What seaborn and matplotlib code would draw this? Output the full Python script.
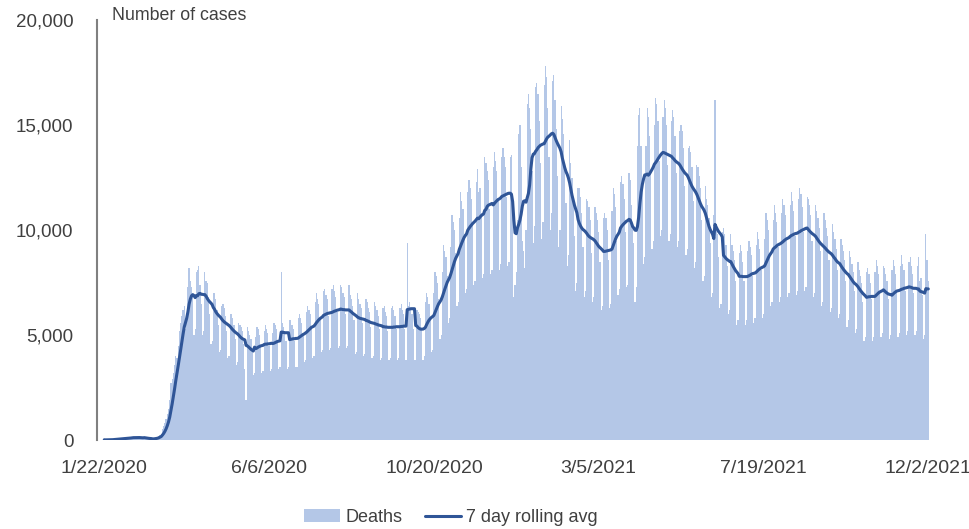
import numpy as np
import pandas as pd
import matplotlib
matplotlib.use("Agg")
import matplotlib.pyplot as plt
from matplotlib.patches import Patch
from matplotlib.lines import Line2D
from matplotlib.ticker import FuncFormatter
import seaborn as sns

# Daily reported deaths, one row per week (Wed..Tue), starting 1/22/2020
deaths_early_2020 = [
    17, 8, 16, 14, 26, 26, 24,
    38, 43, 46, 45, 57, 64, 66,
    73, 73, 86, 89, 97, 108, 97,
    120, 115, 143, 142, 106, 98, 139,
    114, 118, 109, 99, 98, 150, 71,
    64, 42, 57, 64, 58, 71, 73,
    110, 120, 150, 200, 250, 300, 550,
    650, 800, 1000, 1250, 1500, 1900, 2700,
    2900, 3200, 3600, 4000, 3900, 4500, 5200,
    5600, 5900, 6200, 6400, 5300, 6000, 7300,
    8200, 7600, 7300, 6800, 5000, 5300, 8000,
    8100, 8300, 7400, 6500, 5000, 5200, 8000,
    7600, 7500, 6800, 6000, 4600, 4700, 7000,
    7000, 6700, 6200, 5500, 4200, 4300, 6400,
    6500, 6300, 5900, 5200, 3900, 4000, 6000,
]
deaths_mid_2020 = [
    6000, 5800, 5500, 4800, 3600, 3700, 5600,
    5500, 5400, 5200, 4600, 3400, 1900, 5400,
    5200, 5000, 4800, 4300, 3100, 3200, 4900,
    5400, 5300, 5000, 4500, 3200, 3300, 5200,
    5500, 5300, 5100, 4500, 3300, 3400, 5100,
    5600, 5500, 5300, 4700, 3400, 3500, 8000,
    5600, 5400, 5200, 4700, 3400, 3500, 5700,
    5700, 5500, 5300, 4700, 3500, 3500, 5800,
    6000, 5800, 5600, 5000, 3700, 3800, 6100,
    6400, 6200, 6000, 5400, 3900, 4000, 6600,
    7000, 6700, 6500, 5800, 4200, 4300, 7100,
    7200, 6900, 6700, 5900, 4300, 4400, 7200,
    7400, 7100, 6800, 6100, 4400, 4500, 7400,
    7300, 7000, 6800, 6000, 4400, 4500, 7400,
    6900, 6700, 6400, 5700, 4100, 4200, 7000,
    6700, 6500, 6300, 5600, 4000, 4100, 6700,
    6600, 6300, 6100, 5400, 3900, 4000, 6600,
    6400, 6200, 5900, 5300, 3800, 3900, 6300,
    6400, 6100, 5900, 5200, 3800, 3900, 6300,
    6400, 6200, 5900, 5300, 3800, 3900, 6300,
    6500, 6200, 6000, 5300, 3800, 9400, 6400,
    6600, 6300, 6000, 5300, 3800, 3800, 6200,
]
deaths_winter = [
    6100, 6000, 5800, 5300, 3800, 4000, 6600,
    7000, 6800, 6500, 5800, 4200, 4300, 7000,
    8000, 7800, 7500, 6700, 4800, 5000, 8000,
    9300, 9000, 8700, 7800, 5600, 5800, 9200,
    10700, 10400, 10000, 8900, 6400, 6600, 10600,
    11800, 11400, 11000, 9800, 7000, 7200, 11800,
    12400, 12000, 11500, 10300, 7400, 7600, 12300,
    12900, 11800, 12000, 10800, 7700, 7900, 13500,
    13200, 12800, 12400, 11000, 7900, 8100, 13000,
    13700, 13300, 12800, 11400, 8100, 8400, 13500,
    13900, 13500, 13000, 11600, 8300, 8500, 13500,
    13600, 11000, 6800, 7400, 8000, 10500, 14600,
    15000, 13000, 9500, 9000, 8200, 10000, 16000,
    16500, 15800, 14800, 12800, 9400, 10200, 16800,
    17000, 16500, 15200, 13200, 9600, 10400, 16900,
    17800, 17300, 15800, 13500, 10000, 10800, 17100,
    17400, 16200, 14800, 12600, 9200, 10000, 15900,
    15300, 14600, 13200, 11300, 8300, 8800, 14300,
    13200, 12500, 11500, 9700, 7100, 7500, 12000,
    12000, 11600, 10800, 9200, 6800, 7100, 11500,
    11400, 11100, 10500, 8900, 6600, 6800, 11100,
    10800, 10500, 9900, 8500, 6200, 6400, 10600,
    10800, 10600, 10000, 8600, 6300, 6500, 10900,
]
deaths_spring_2021 = [
    12000, 11700, 11100, 9500, 6900, 7200, 12300,
    12600, 12200, 11500, 9900, 7300, 7400, 12700,
    12400, 11200, 10300, 9400, 6600, 7300, 14000,
    15500, 15800, 14000, 12000, 8400, 8700, 14000,
    15800, 15400, 14500, 12700, 9100, 9500, 15000,
    16300, 16000, 15200, 13300, 9700, 10000, 15400,
    16200, 15800, 15000, 13100, 9500, 9800, 15200,
    15700, 15400, 14500, 12700, 9200, 9500, 14700,
    15000, 14700, 13900, 12100, 8800, 9100, 13900,
    14000, 13700, 13000, 11400, 8200, 8500, 13100,
    13000, 12600, 12000, 10500, 7600, 7800, 12100,
    11500, 11200, 10600, 9400, 6800, 7000, 10700,
    16200, 10300, 9800, 8700, 6300, 6500, 9900,
    10100, 9800, 9300, 8300, 6000, 6200, 9800,
    9300, 9000, 8600, 7600, 5500, 5700, 8900,
    9300, 9000, 8500, 7600, 5500, 5700, 9000,
    9500, 9200, 8800, 7800, 5600, 5800, 9300,
]
deaths_late_2021 = [
    9900, 9600, 9100, 8100, 5800, 6000, 9600,
    10800, 10500, 10000, 8900, 6400, 6600, 10500,
    11200, 10800, 10400, 9200, 6600, 6800, 10800,
    11500, 11200, 10700, 9500, 6800, 7000, 11200,
    11800, 11400, 10900, 9700, 6900, 7100, 11500,
    12000, 11700, 11100, 9900, 7100, 7300, 11600,
    11500, 11200, 10700, 9500, 6800, 7000, 11200,
    10900, 10600, 10100, 9000, 6400, 6600, 10800,
    10500, 10100, 9700, 8600, 6100, 6300, 10300,
    9900, 9600, 9100, 8100, 5800, 6000, 9600,
    9300, 9000, 8600, 7600, 5400, 5700, 9000,
    8700, 8400, 8000, 7100, 5100, 5300, 8500,
    8100, 7800, 7500, 6600, 4700, 4900, 8000,
    8200, 7900, 7500, 6700, 4700, 4900, 8000,
    8600, 8300, 7900, 7000, 4900, 5100, 8300,
    8200, 7900, 7600, 6700, 4800, 5000, 8100,
    8600, 8300, 7900, 7000, 4900, 5100, 8300,
    8800, 8400, 8100, 7100, 5000, 5200, 8500,
    8700, 8300, 7900, 7000, 5000, 5200, 8300,
    8700, 7600, 7700, 6900, 4800, 5000, 9800,
    8600, 7600,
]

start_date = "2020-01-22"
x_tick_labels = ["1/22/2020", "6/6/2020", "10/20/2020", "3/5/2021", "7/19/2021", "12/2/2021"]
y_ticks = [0, 5000, 10000, 15000, 20000]

deaths = (deaths_early_2020 + deaths_mid_2020 + deaths_winter
          + deaths_spring_2021 + deaths_late_2021)
dates = pd.date_range(start_date, periods=len(deaths), freq="D")
df = pd.DataFrame({"day": np.arange(len(deaths)), "date": dates, "deaths": deaths})
df["avg7"] = df["deaths"].rolling(7, min_periods=1).mean()

bar_color = "#B4C7E7"
line_color = "#2F5597"
text_color = "#404040"

sns.set_style("white")
plt.rcParams["font.family"] = ["Liberation Sans", "DejaVu Sans"]

fig = plt.figure(figsize=(9.70, 5.29), dpi=100)
ax = fig.add_axes([0.100, 0.168, 0.862, 0.794])

sns.barplot(data=df, x="day", y="deaths", color=bar_color, width=1.0,
            linewidth=0, saturation=1, ax=ax)
sns.lineplot(data=df, x="day", y="avg7", color=line_color, linewidth=2.2, ax=ax)

ax.set_xlim(-6, len(deaths) + 3)
ax.set_ylim(0, 20000)
ax.set_yticks(y_ticks)
ax.yaxis.set_major_formatter(FuncFormatter(lambda v, p: f"{v:,.0f}"))

tick_pos = [dates.get_loc(pd.to_datetime(lbl, format="%m/%d/%Y")) for lbl in x_tick_labels]
ax.set_xticks(tick_pos)
ax.set_xticklabels(x_tick_labels)

ax.set_xlabel("")
ax.set_ylabel("")
ax.tick_params(axis="both", length=0, labelsize=13.5, colors=text_color)
ax.tick_params(axis="x", pad=14, labelsize=14)
ax.tick_params(axis="y", pad=17)

for side in ["top", "right", "bottom"]:
    ax.spines[side].set_visible(False)
ax.spines["left"].set_color("#808080")
ax.spines["left"].set_linewidth(1.5)

ax.text(0.0185, 1.012, "Number of cases", transform=ax.transAxes, ha="left", va="center",
        fontsize=12.8, color=text_color)

handles = [Patch(facecolor=bar_color, edgecolor="none"),
           Line2D([0], [0], color=line_color, linewidth=2.2)]
fig.legend(handles, ["Deaths", "7 day rolling avg"], loc="center",
           bbox_to_anchor=(0.465, 0.022), ncol=2, frameon=False,
           fontsize=13, labelcolor=text_color, handlelength=2.0,
           handletextpad=0.3, columnspacing=1.2)

fig.savefig("out.png", dpi=100, facecolor="white")
